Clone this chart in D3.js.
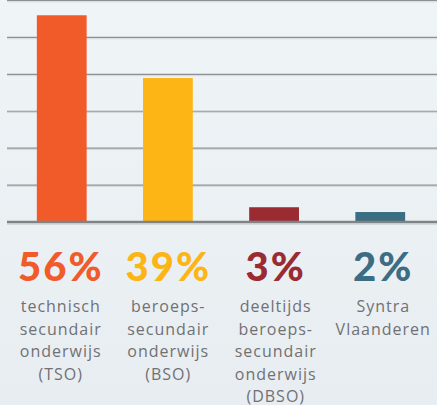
<!DOCTYPE html>
<html><head><meta charset="utf-8">
<script src="https://cdn.jsdelivr.net/npm/d3@7"></script>
<style>
html,body{margin:0;padding:0;}
body{width:437px;height:405px;overflow:hidden;}
</style></head>
<body><svg id="c" width="437" height="405"></svg>
<script>
const categories = ["TSO", "BSO", "DBSO", "Syntra"];
const barValues = [56, 39, 4, 2.7];
const percentLabels = ["56%", "39%", "3%", "2%"];
const descriptions = [
  ["technisch", "secundair", "onderwijs", "(TSO)"],
  ["beroeps-", "secundair", "onderwijs", "(BSO)"],
  ["deeltijds", "beroeps-", "secundair", "onderwijs", "(DBSO)"],
  ["Syntra", "Vlaanderen"]
];
const colors = ["#f15a29", "#fdb515", "#9b2b33", "#3b6d83"];
const gridTicks = [0, 10, 20, 30, 40, 50, 60];

const W = 437, H = 405;
const svg = d3.select("#c");
const defs = svg.append("defs");
const grad = defs.append("linearGradient").attr("id","bg").attr("x1",0).attr("y1",0).attr("x2",0).attr("y2",1);
grad.append("stop").attr("offset","0%").attr("stop-color","#eff4f7");
grad.append("stop").attr("offset","100%").attr("stop-color","#e8edf1");
svg.append("rect").attr("width",W).attr("height",H).attr("fill","url(#bg)");

const x = d3.scaleBand().domain(categories).range([5, 437]).paddingInner(0.531).paddingOuter(0.3);
const y = d3.scaleLinear().domain([0, 60]).range([222, 0.5]);

const grid = svg.append("g");
gridTicks.filter(t => t > 0).forEach(t => {
  grid.append("line").attr("x1",7).attr("x2",W).attr("y1",y(t)+1.3).attr("y2",y(t)+1.3)
    .attr("stroke","#d3d8dc").attr("stroke-width",1);
  grid.append("line").attr("x1",7).attr("x2",W).attr("y1",y(t)).attr("y2",y(t))
    .attr("stroke","#8e9194").attr("stroke-width",1.2);
});

svg.append("g").selectAll("rect").data(barValues).join("rect")
  .attr("x",(d,i)=>x(categories[i]))
  .attr("width",x.bandwidth())
  .attr("y",d=>y(d))
  .attr("height",d=>y(0)-y(d))
  .attr("fill",(d,i)=>colors[i]);

svg.append("line").attr("x1",7).attr("x2",W).attr("y1",y(0)+2.2).attr("y2",y(0)+2.2)
  .attr("stroke","#c9ced2").attr("stroke-width",1);
svg.append("line").attr("x1",7).attr("x2",W).attr("y1",y(0)).attr("y2",y(0))
  .attr("stroke","#808386").attr("stroke-width",2.4);

const lab = d3.scaleBand().domain(categories).range([7, 437]);
const g = svg.append("g");
categories.forEach((c,i)=>{
  const cx = lab(c) + lab.bandwidth()/2;
  g.append("text").attr("x",cx).attr("y",281).attr("text-anchor","middle")
    .attr("font-family","Lato, sans-serif").attr("font-weight",900).attr("font-size",40)
    .attr("letter-spacing","2px")
    .attr("fill",colors[i]).text(percentLabels[i]);
  descriptions[i].forEach((line,j)=>{
    g.append("text").attr("x",cx).attr("y",312 + j*22.6).attr("text-anchor","middle")
      .attr("font-family","'Open Sans', sans-serif").attr("font-weight",400).attr("font-size",16)
      .attr("letter-spacing","1px")
      .attr("fill","#707174").text(line);
  });
});
</script></body></html>
